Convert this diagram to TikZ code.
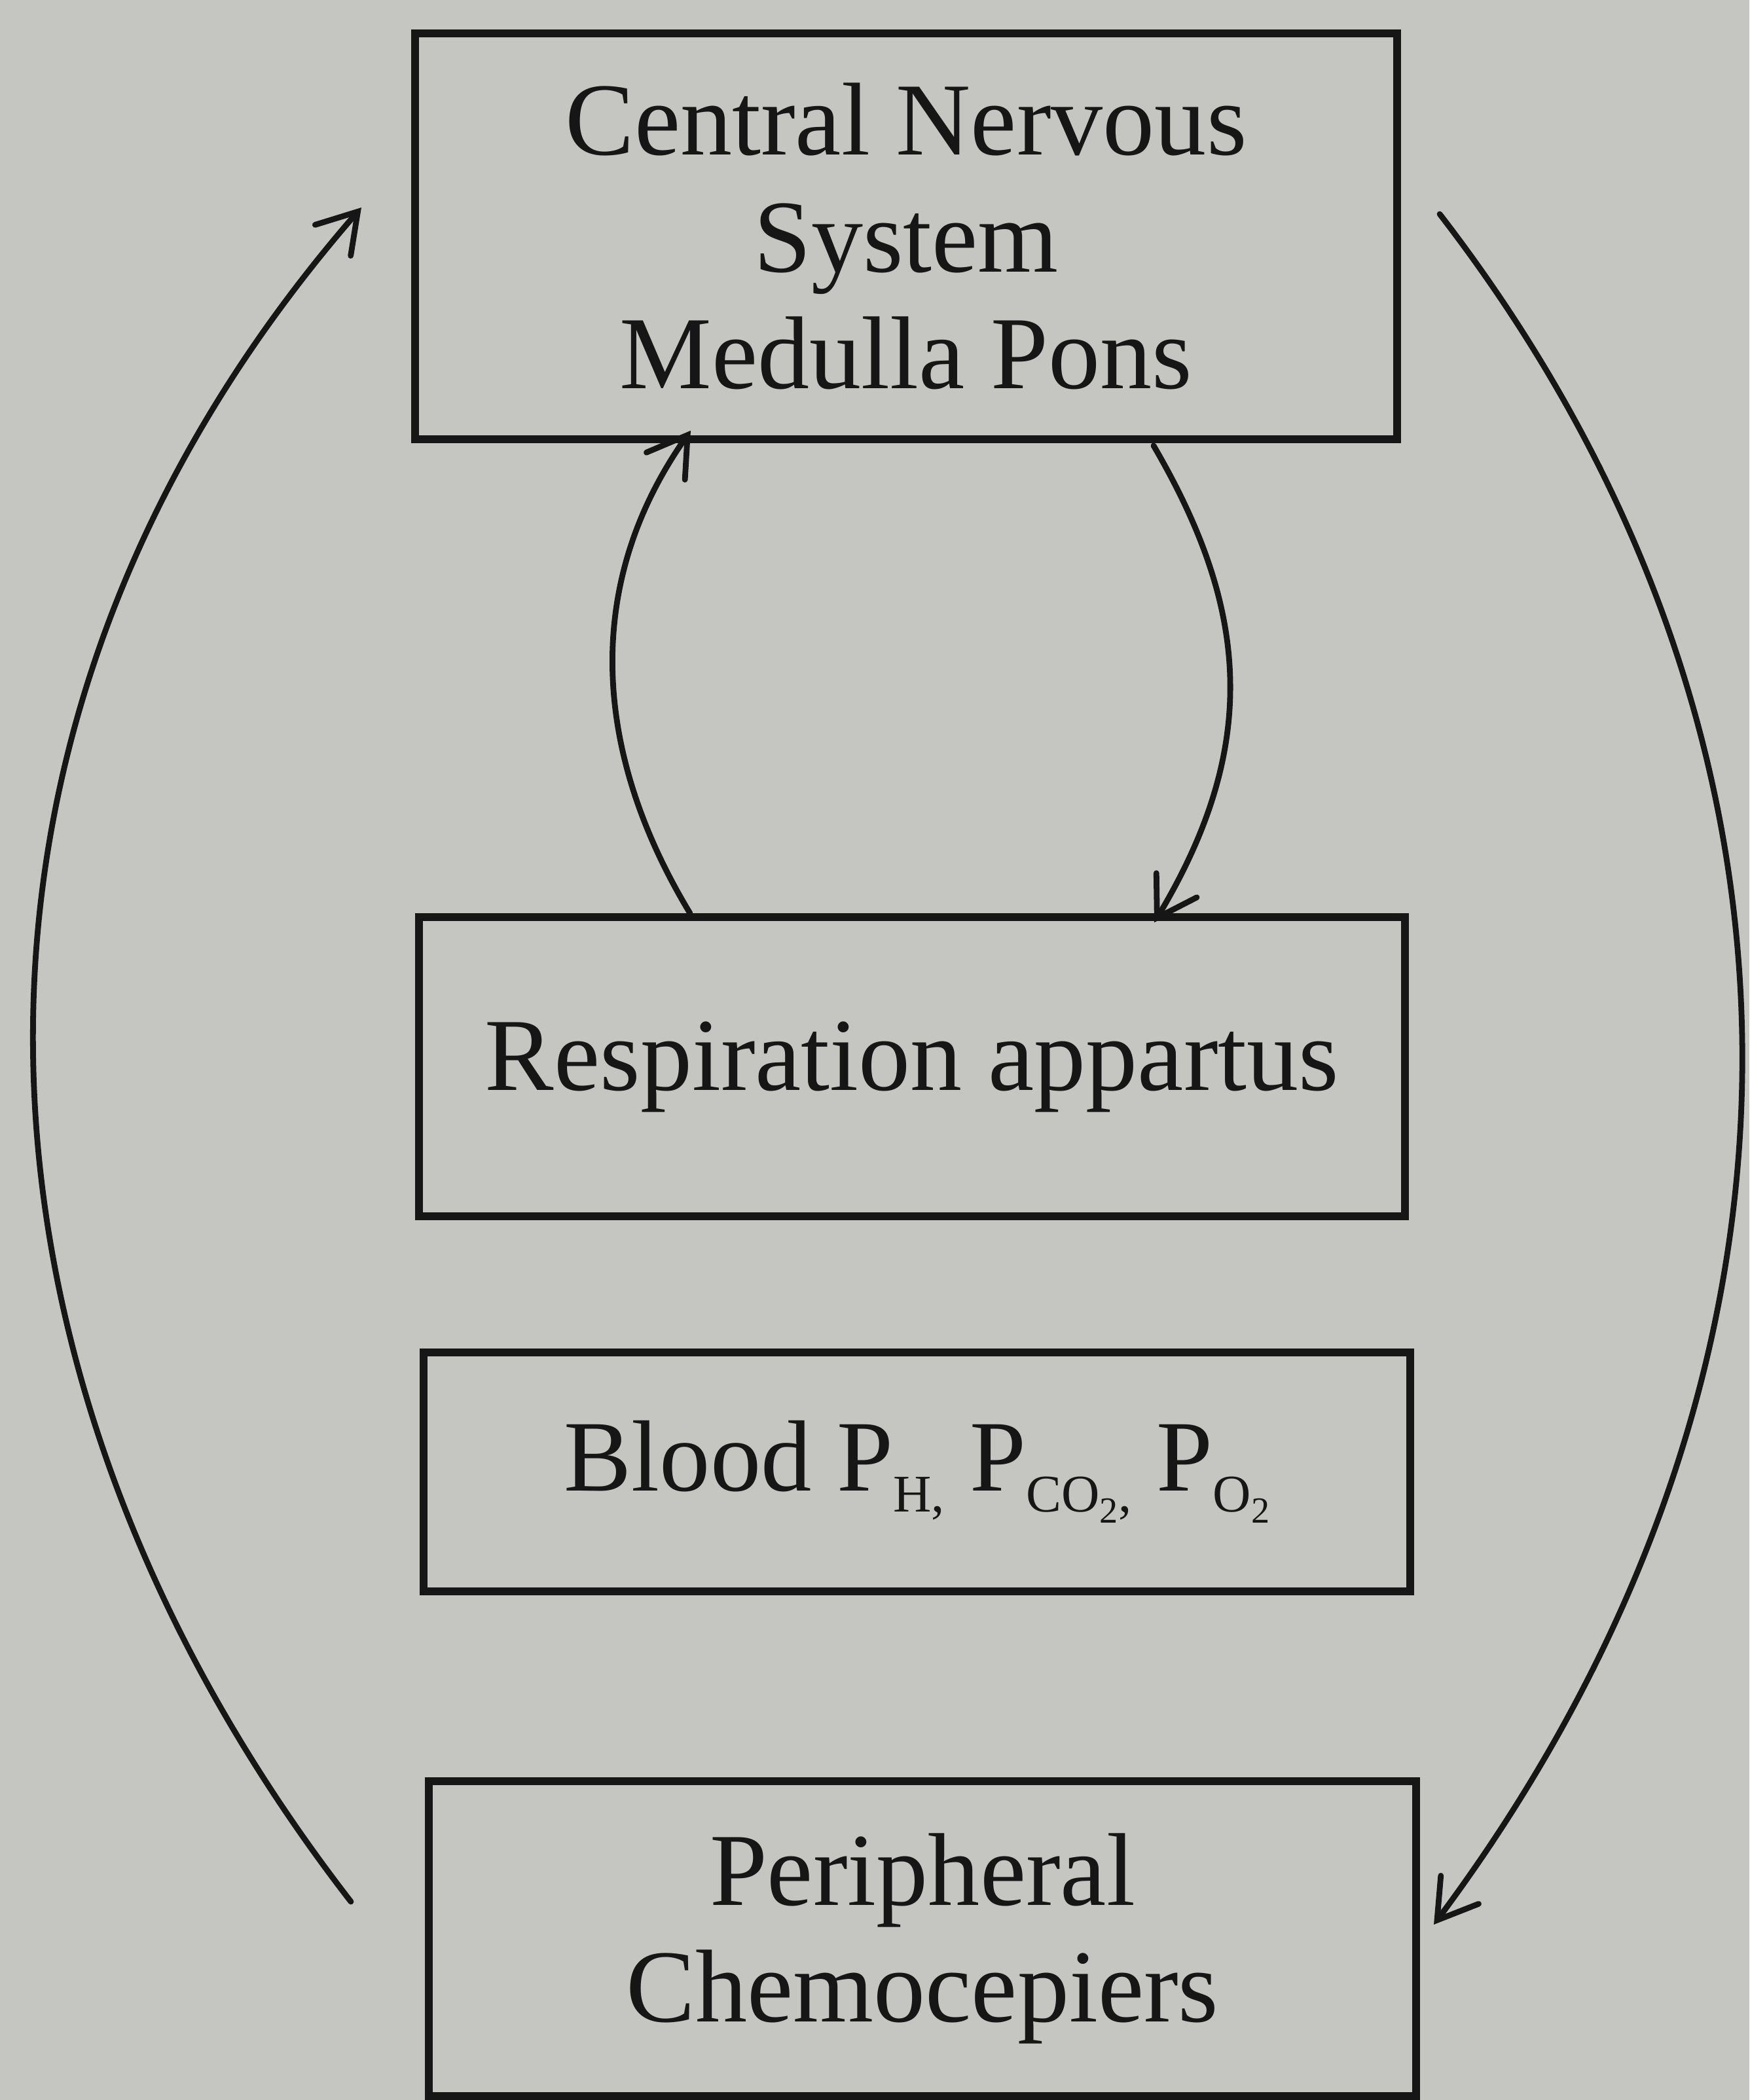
\documentclass[tikz,border=0pt]{standalone}
\usepackage{fontspec}
\setmainfont{Liberation Serif}
\usetikzlibrary{arrows.meta}
\definecolor{paper}{RGB}{197,198,193}
\definecolor{ink}{RGB}{22,22,22}
\newcommand\lsub[1]{\raisebox{-0.32cm}{\fontsize{23}{23}\selectfont #1}}
\newcommand\llsub[1]{\raisebox{-0.17cm}{\fontsize{16}{16}\selectfont #1}}
\tikzset{
  box/.style={draw=ink, line width=3.3pt, inner sep=0pt, align=center, text=ink,
    font=\fontsize{45}{50.7}\selectfont},
  arr/.style={draw=ink, line width=2.5pt, line cap=round,
    -{Straight Barb[length=0.58cm,width=0.72cm,line cap=round]}}
}
\begin{document}
\begin{tikzpicture}
\useasboundingbox (0,0) rectangle (26.72,-32.08);
\fill[paper] (0,0) rectangle (26.72,-32.08);

\node[box, minimum width=15.00cm, minimum height=6.20cm] (cns) at (13.84,-3.61)
  {Central Nervous\\System\\Medulla Pons};
\node[box, minimum width=15.06cm, minimum height=4.57cm] (resp) at (13.93,-16.295)
  {Respiration appartus};
\node[box, minimum width=15.07cm, minimum height=3.65cm, font=\fontsize{44}{50}\selectfont] (blood) at (14.005,-22.485)
  {Blood P\lsub{H,} P\lsub{CO\llsub{2},} P\lsub{O\llsub{2}}};
\node[box, minimum width=15.08cm, minimum height=4.81cm] (per) at (14.09,-29.615)
  {Peripheral\\Chemocepiers};

\coordinate (lstart) at (5.36,-29.05);
\coordinate (lend) at (5.52,-3.17);
\coordinate (rstart) at (21.99,-3.27);
\coordinate (rend) at (21.90,-29.40);

% outer loop
\draw[arr] (lstart) .. controls +(-6.16,7.96) and +(-6.97,-8.02) .. (lend);
\draw[arr] (rstart) .. controls +(6.14,-7.96) and +(6.28,8.43) .. (rend);

% inner loop
\draw[arr] ([xshift=-3.39cm]resp.north) .. controls +(-1.54,2.55) and +(-1.61,-2.28) .. ([xshift=-3.29cm,yshift=0.19cm]cns.south);
\draw[arr] ([xshift=3.78cm,yshift=-0.04cm]cns.south) .. controls +(1.43,-2.45) and +(1.65,2.75) .. ([xshift=3.70cm,yshift=-0.14cm]resp.north);
\end{tikzpicture}
\end{document}
